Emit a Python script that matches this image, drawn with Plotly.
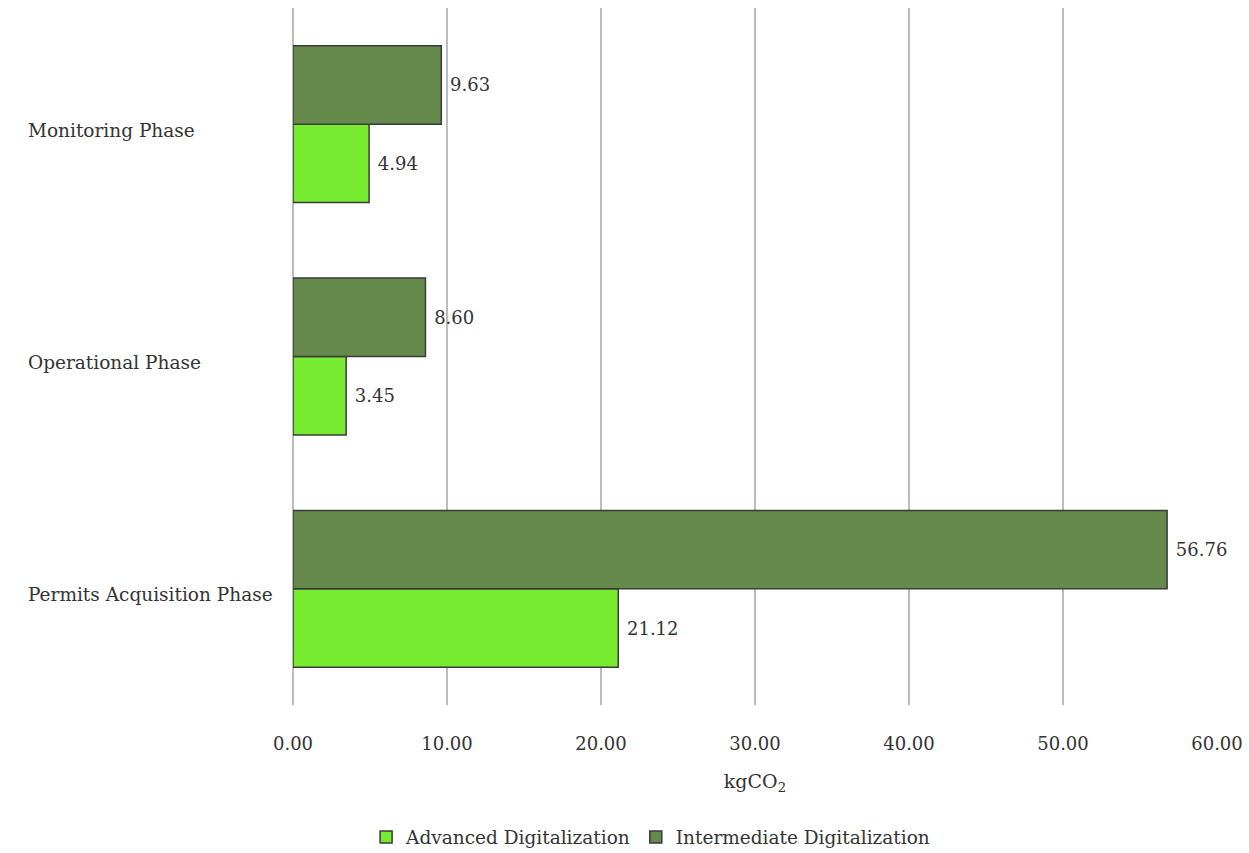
import plotly.graph_objects as go

# Emissions per project phase (kgCO2)
phases = ["Permits Acquisition Phase", "Operational Phase", "Monitoring Phase"]
advanced = [21.12, 3.45, 4.94]
intermediate = [56.76, 8.60, 9.63]
x_ticks = [0, 10, 20, 30, 40, 50, 60]

FONT = "DejaVu Serif"
TEXT_COLOR = "#333333"
GRID = "#bcbcbc"

fig = go.Figure()
fig.add_trace(go.Bar(
    name="Advanced Digitalization", y=phases, x=advanced, orientation="h",
    marker=dict(color="#76EB2F", line=dict(color="#3a3a3a", width=1.5)),
    texttemplate=" %{x:.2f}", textposition="outside",
    textfont=dict(family=FONT, size=18, color=TEXT_COLOR), cliponaxis=False,
))
fig.add_trace(go.Bar(
    name="Intermediate Digitalization", y=phases, x=intermediate, orientation="h",
    marker=dict(color="#658A4C", line=dict(color="#3a3a3a", width=1.5)),
    texttemplate=" %{x:.2f}", textposition="outside",
    textfont=dict(family=FONT, size=18, color=TEXT_COLOR), cliponaxis=False,
))

# Left-aligned category labels
for p in phases:
    fig.add_annotation(x=0, xref="paper", xshift=-267, y=p, yref="y", yshift=-6,
                       text=p, showarrow=False, xanchor="left",
                       font=dict(family=FONT, size=18.5, color=TEXT_COLOR))

fig.update_layout(
    width=1249, height=853, autosize=False,
    margin=dict(l=293, r=32, t=8, b=148, autoexpand=False),
    paper_bgcolor="white", plot_bgcolor="white",
    barmode="group", bargap=0.325, bargroupgap=0,
    font=dict(family=FONT, size=18, color=TEXT_COLOR),
    xaxis=dict(
        range=[0, 60], tickvals=x_ticks, tickformat=".2f", tickangle=0,
        showgrid=True, gridcolor=GRID, gridwidth=2,
        zeroline=True, zerolinecolor=GRID, zerolinewidth=2, showline=False,
        ticks="outside", ticklen=22, tickcolor="rgba(0,0,0,0)",
        tickfont=dict(family=FONT, size=18, color=TEXT_COLOR),
        title=dict(text="kgCO<sub>2</sub>", standoff=22,
                   font=dict(family=FONT, size=19, color=TEXT_COLOR)),
    ),
    yaxis=dict(showticklabels=False, showgrid=False, zeroline=False,
               categoryorder="array", categoryarray=phases),
    legend=dict(orientation="h", x=0.387, xanchor="center",
                y=-0.19, yanchor="middle", traceorder="normal",
                font=dict(family=FONT, size=18.5, color=TEXT_COLOR)),
    showlegend=True,
)

fig.write_html("out.html")
